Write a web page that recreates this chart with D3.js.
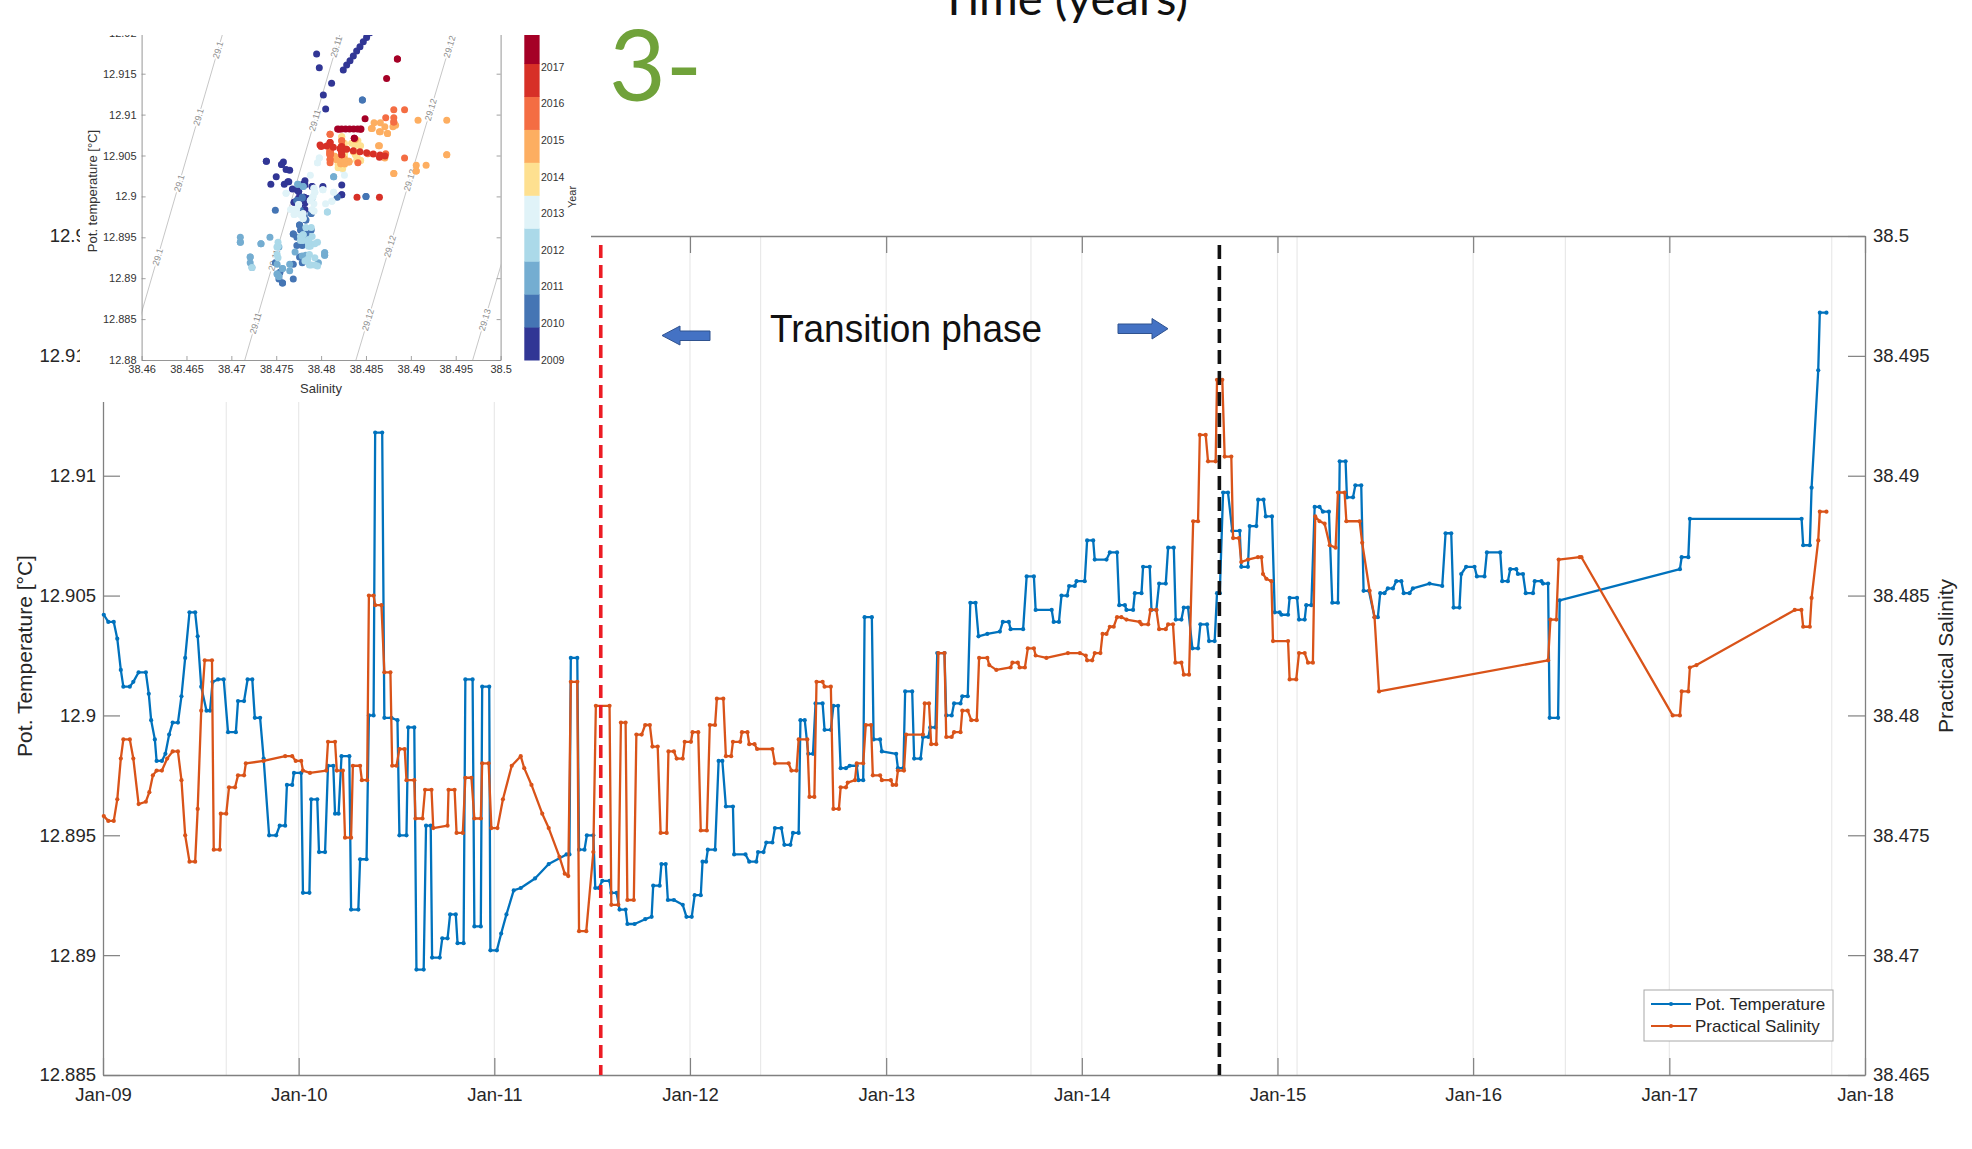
<!DOCTYPE html>
<html>
<head>
<meta charset="utf-8">
<script src="https://cdn.jsdelivr.net/npm/d3@7"></script>
<style>
  body { margin: 0; background: #fff; }
  svg { display: block; font-family: "Liberation Sans", Arial, sans-serif; }
</style>
</head>
<body>
<div id="chart"></div>
<script>
// ---- data (decimal years) ----
const tempYears = [2009.004,2009.027,2009.055,2009.073,2009.091,2009.104,2009.137,2009.155,2009.182,2009.219,2009.234,2009.246,2009.265,2009.274,2009.301,2009.319,2009.338,2009.356,2009.383,2009.401,2009.420,2009.442,2009.471,2009.484,2009.502,2009.529,2009.547,2009.560,2009.588,2009.617,2009.639,2009.679,2009.690,2009.721,2009.739,2009.763,2009.776,2009.803,2009.821,2009.849,2009.885,2009.903,2009.931,2009.940,2009.967,2009.976,2010.013,2010.022,2010.055,2010.064,2010.095,2010.104,2010.135,2010.150,2010.177,2010.186,2010.204,2010.219,2010.259,2010.268,2010.305,2010.314,2010.347,2010.359,2010.383,2010.391,2010.427,2010.438,2010.474,2010.505,2010.515,2010.551,2010.560,2010.591,2010.602,2010.639,2010.651,2010.675,2010.682,2010.721,2010.734,2010.761,2010.774,2010.803,2010.812,2010.843,2010.852,2010.889,2010.898,2010.931,2010.938,2010.974,2010.980,2011.013,2011.035,2011.062,2011.099,2011.135,2011.208,2011.278,2011.369,2011.384,2011.391,2011.424,2011.433,2011.461,2011.473,2011.506,2011.516,2011.534,2011.552,2011.589,2011.598,2011.625,2011.640,2011.671,2011.680,2011.717,2011.771,2011.804,2011.812,2011.845,2011.854,2011.876,2011.887,2011.918,2011.963,2011.982,2012.009,2012.024,2012.055,2012.064,2012.082,2012.091,2012.128,2012.146,2012.165,2012.183,2012.219,2012.225,2012.283,2012.302,2012.338,2012.347,2012.375,2012.389,2012.420,2012.433,2012.466,2012.481,2012.512,2012.525,2012.554,2012.563,2012.585,2012.603,2012.627,2012.640,2012.676,2012.686,2012.718,2012.731,2012.755,2012.768,2012.795,2012.814,2012.850,2012.859,2012.883,2012.890,2012.927,2012.936,2012.969,2012.978,2013.051,2013.060,2013.088,2013.097,2013.133,2013.143,2013.176,2013.188,2013.216,2013.225,2013.252,2013.261,2013.298,2013.307,2013.335,2013.347,2013.380,2013.389,2013.417,2013.430,2013.457,2013.472,2013.517,2013.581,2013.596,2013.627,2013.636,2013.700,2013.718,2013.755,2013.764,2013.846,2013.856,2013.883,2013.896,2013.925,2013.935,2013.964,2013.973,2014.015,2014.027,2014.058,2014.066,2014.126,2014.143,2014.180,2014.191,2014.220,2014.228,2014.262,2014.271,2014.305,2014.313,2014.347,2014.356,2014.381,2014.395,2014.429,2014.441,2014.470,2014.480,2014.509,2014.521,2014.543,2014.565,2014.594,2014.606,2014.640,2014.650,2014.679,2014.691,2014.705,2014.722,2014.747,2014.769,2014.807,2014.815,2014.849,2014.858,2014.892,2014.901,2014.929,2014.940,2014.972,2014.986,2015.011,2015.020,2015.054,2015.062,2015.100,2015.110,2015.139,2015.147,2015.173,2015.190,2015.215,2015.232,2015.263,2015.280,2015.309,2015.318,2015.348,2015.355,2015.386,2015.398,2015.428,2015.440,2015.467,2015.496,2015.513,2015.525,2015.547,2015.564,2015.590,2015.607,2015.633,2015.645,2015.675,2015.692,2015.777,2015.842,2015.859,2015.888,2015.900,2015.930,2015.939,2015.964,2016.007,2016.019,2016.058,2016.070,2016.138,2016.148,2016.177,2016.189,2016.220,2016.228,2016.254,2016.268,2016.305,2016.314,2016.348,2016.356,2016.382,2016.390,2016.433,2016.441,2017.054,2017.063,2017.097,2017.105,2017.676,2017.684,2017.718,2017.727,2017.761,2017.769,2017.803];
const tempValues = [12.9042,12.9039,12.9039,12.9032,12.9019,12.9012,12.9012,12.9014,12.9018,12.9018,12.9009,12.8998,12.8990,12.8981,12.8981,12.8984,12.8992,12.8997,12.8997,12.9008,12.9024,12.9043,12.9043,12.9033,12.9012,12.9002,12.9002,12.9014,12.9015,12.9015,12.8993,12.8993,12.9006,12.9006,12.9015,12.9015,12.8999,12.8999,12.8982,12.8950,12.8950,12.8954,12.8954,12.8971,12.8971,12.8976,12.8976,12.8926,12.8926,12.8965,12.8965,12.8943,12.8943,12.8979,12.8979,12.8959,12.8959,12.8983,12.8983,12.8919,12.8919,12.8940,12.8940,12.9000,12.9000,12.9118,12.9118,12.8999,12.8999,12.8998,12.8950,12.8950,12.8995,12.8995,12.8894,12.8894,12.8954,12.8954,12.8899,12.8899,12.8907,12.8907,12.8917,12.8917,12.8905,12.8905,12.9015,12.9015,12.8912,12.8912,12.9012,12.9012,12.8902,12.8902,12.8909,12.8917,12.8927,12.8928,12.8932,12.8938,12.8942,12.8942,12.9024,12.9024,12.8944,12.8944,12.8950,12.8950,12.8928,12.8928,12.8931,12.8931,12.8926,12.8926,12.8919,12.8919,12.8913,12.8913,12.8915,12.8916,12.8929,12.8929,12.8938,12.8938,12.8923,12.8923,12.8921,12.8916,12.8916,12.8925,12.8925,12.8939,12.8939,12.8944,12.8944,12.8981,12.8981,12.8962,12.8962,12.8942,12.8942,12.8939,12.8939,12.8943,12.8943,12.8947,12.8947,12.8953,12.8953,12.8946,12.8946,12.8951,12.8951,12.8998,12.8998,12.8984,12.8984,12.9005,12.9005,12.8994,12.8994,12.9004,12.9004,12.8978,12.8978,12.8979,12.8979,12.8973,12.8973,12.9041,12.9041,12.8990,12.8990,12.8985,12.8984,12.8978,12.8978,12.9010,12.9010,12.8982,12.8982,12.8991,12.8991,12.8995,12.8995,12.9026,12.9026,12.9000,12.9000,12.9005,12.9005,12.9008,12.9008,12.9047,12.9047,12.9033,12.9034,12.9035,12.9039,12.9039,12.9036,12.9036,12.9058,12.9058,12.9044,12.9044,12.9039,12.9039,12.9050,12.9050,12.9054,12.9054,12.9056,12.9056,12.9073,12.9073,12.9065,12.9065,12.9068,12.9068,12.9046,12.9046,12.9044,12.9044,12.9051,12.9051,12.9062,12.9062,12.9044,12.9044,12.9055,12.9055,12.9070,12.9070,12.9040,12.9040,12.9045,12.9045,12.9028,12.9028,12.9038,12.9038,12.9031,12.9031,12.9051,12.9051,12.9093,12.9093,12.9077,12.9077,12.9062,12.9062,12.9079,12.9079,12.9090,12.9090,12.9083,12.9083,12.9043,12.9043,12.9042,12.9042,12.9049,12.9049,12.9040,12.9040,12.9046,12.9046,12.9087,12.9087,12.9085,12.9085,12.9047,12.9047,12.9106,12.9106,12.9091,12.9091,12.9096,12.9096,12.9052,12.9052,12.9041,12.9041,12.9051,12.9051,12.9053,12.9053,12.9056,12.9056,12.9051,12.9051,12.9053,12.9055,12.9054,12.9076,12.9076,12.9045,12.9045,12.9059,12.9062,12.9062,12.9058,12.9058,12.9068,12.9068,12.9056,12.9056,12.9061,12.9061,12.9059,12.9059,12.9051,12.9051,12.9056,12.9056,12.9055,12.9055,12.8999,12.8999,12.9048,12.9061,12.9066,12.9066,12.9082,12.9082,12.9071,12.9071,12.9095,12.9144,12.9168,12.9168];

const salYears = [2009.004,2009.027,2009.055,2009.073,2009.091,2009.104,2009.137,2009.155,2009.182,2009.219,2009.237,2009.255,2009.274,2009.301,2009.328,2009.356,2009.383,2009.401,2009.420,2009.442,2009.471,2009.484,2009.502,2009.520,2009.557,2009.566,2009.597,2009.602,2009.630,2009.644,2009.675,2009.690,2009.721,2009.730,2009.821,2009.931,2009.967,2009.985,2010.013,2010.022,2010.058,2010.141,2010.150,2010.186,2010.195,2010.226,2010.237,2010.268,2010.277,2010.314,2010.323,2010.350,2010.359,2010.383,2010.391,2010.423,2010.438,2010.469,2010.478,2010.500,2010.515,2010.542,2010.551,2010.591,2010.597,2010.633,2010.646,2010.679,2010.688,2010.761,2010.766,2010.797,2010.807,2010.839,2010.852,2010.883,2010.898,2010.931,2010.938,2010.971,2010.985,2011.016,2011.044,2011.089,2011.135,2011.153,2011.190,2011.245,2011.278,2011.333,2011.360,2011.378,2011.391,2011.424,2011.433,2011.470,2011.506,2011.519,2011.589,2011.598,2011.634,2011.647,2011.671,2011.680,2011.713,2011.726,2011.753,2011.771,2011.795,2011.808,2011.835,2011.850,2011.881,2011.890,2011.918,2011.932,2011.963,2011.973,2012.005,2012.013,2012.042,2012.055,2012.086,2012.101,2012.128,2012.137,2012.170,2012.183,2012.210,2012.219,2012.256,2012.265,2012.293,2012.302,2012.329,2012.342,2012.420,2012.433,2012.503,2012.517,2012.543,2012.554,2012.598,2012.609,2012.634,2012.645,2012.676,2012.686,2012.718,2012.731,2012.759,2012.768,2012.795,2012.804,2012.841,2012.850,2012.883,2012.896,2012.923,2012.932,2012.969,2012.978,2013.024,2013.033,2013.051,2013.060,2013.091,2013.102,2013.188,2013.197,2013.219,2013.230,2013.256,2013.267,2013.298,2013.307,2013.335,2013.347,2013.380,2013.389,2013.417,2013.435,2013.463,2013.475,2013.517,2013.527,2013.563,2013.636,2013.645,2013.673,2013.682,2013.709,2013.724,2013.755,2013.764,2013.819,2013.929,2013.990,2014.020,2014.027,2014.053,2014.066,2014.095,2014.106,2014.126,2014.143,2014.163,2014.180,2014.202,2014.228,2014.296,2014.305,2014.339,2014.351,2014.381,2014.395,2014.429,2014.441,2014.466,2014.478,2014.509,2014.521,2014.548,2014.569,2014.594,2014.603,2014.633,2014.645,2014.684,2014.691,2014.718,2014.730,2014.764,2014.773,2014.803,2014.815,2014.849,2014.900,2014.918,2014.926,2014.943,2014.969,2014.977,2015.054,2015.062,2015.096,2015.110,2015.139,2015.156,2015.181,2015.193,2015.215,2015.241,2015.267,2015.297,2015.309,2015.343,2015.352,2015.420,2015.433,2015.471,2015.496,2015.519,2016.382,2016.394,2016.424,2016.436,2016.543,2016.552,2017.017,2017.054,2017.063,2017.097,2017.105,2017.139,2017.641,2017.675,2017.684,2017.718,2017.727,2017.761,2017.769,2017.803];
const salValues = [38.4758,38.4756,38.4756,38.4765,38.4782,38.4790,38.4790,38.4782,38.4763,38.4764,38.4768,38.4775,38.4777,38.4777,38.4782,38.4785,38.4785,38.4773,38.4750,38.4739,38.4739,38.4761,38.4802,38.4823,38.4823,38.4744,38.4744,38.4759,38.4759,38.4770,38.4770,38.4775,38.4775,38.4780,38.4781,38.4783,38.4783,38.4781,38.4781,38.4777,38.4776,38.4777,38.4789,38.4789,38.4777,38.4777,38.4749,38.4749,38.4779,38.4779,38.4773,38.4773,38.4850,38.4850,38.4846,38.4846,38.4818,38.4818,38.4779,38.4779,38.4786,38.4786,38.4773,38.4773,38.4757,38.4757,38.4769,38.4769,38.4753,38.4754,38.4769,38.4769,38.4751,38.4751,38.4774,38.4774,38.4757,38.4757,38.4780,38.4780,38.4753,38.4753,38.4765,38.4779,38.4783,38.4778,38.4771,38.4759,38.4753,38.4741,38.4734,38.4733,38.4814,38.4814,38.4710,38.4710,38.4743,38.4804,38.4804,38.4721,38.4721,38.4797,38.4797,38.4723,38.4723,38.4792,38.4792,38.4796,38.4796,38.4787,38.4787,38.4751,38.4751,38.4785,38.4785,38.4782,38.4782,38.4789,38.4789,38.4793,38.4793,38.4752,38.4752,38.4796,38.4796,38.4807,38.4807,38.4783,38.4783,38.4789,38.4789,38.4793,38.4793,38.4788,38.4788,38.4786,38.4786,38.4780,38.4780,38.4777,38.4777,38.4790,38.4790,38.4766,38.4766,38.4814,38.4814,38.4812,38.4812,38.4761,38.4761,38.4770,38.4770,38.4772,38.4773,38.4780,38.4780,38.4796,38.4796,38.4775,38.4775,38.4773,38.4773,38.4771,38.4771,38.4777,38.4777,38.4792,38.4792,38.4805,38.4805,38.4788,38.4788,38.4826,38.4826,38.4791,38.4791,38.4793,38.4793,38.4802,38.4802,38.4798,38.4798,38.4824,38.4824,38.4821,38.4819,38.4820,38.4822,38.4822,38.4820,38.4820,38.4828,38.4828,38.4825,38.4824,38.4826,38.4826,38.4825,38.4823,38.4823,38.4826,38.4826,38.4834,38.4834,38.4837,38.4837,38.4841,38.4841,38.4840,38.4839,38.4838,38.4838,38.4844,38.4844,38.4836,38.4836,38.4838,38.4838,38.4822,38.4822,38.4817,38.4817,38.4881,38.4881,38.4917,38.4917,38.4906,38.4906,38.4940,38.4940,38.4908,38.4908,38.4874,38.4874,38.4864,38.4865,38.4866,38.4866,38.4859,38.4857,38.4856,38.4831,38.4831,38.4815,38.4815,38.4826,38.4826,38.4822,38.4822,38.4883,38.4881,38.4880,38.4871,38.4870,38.4893,38.4893,38.4881,38.4881,38.4872,38.4852,38.4841,38.4810,38.4823,38.4840,38.4840,38.4865,38.4866,38.4866,38.4800,38.4800,38.4810,38.4810,38.4820,38.4821,38.4844,38.4844,38.4837,38.4837,38.4849,38.4873,38.4885,38.4885];

const yearTicks = [2009, 2010, 2011, 2012, 2013, 2014, 2015, 2016, 2017, 2018];
const tempTicks = [12.885, 12.89, 12.895, 12.9, 12.905, 12.91, 12.915, 12.92];
const salTicks = [38.465, 38.47, 38.475, 38.48, 38.485, 38.49, 38.495, 38.5];
const extraGridYears = [2009.63, 2012.36, 2013.74, 2015.10, 2016.47, 2017.83];
const phaseStart = 2011.544;   // red dashed line
const phaseEnd = 2014.703;     // black dashed line

// inset (T-S diagram)
const insetSalTicks = [38.46, 38.465, 38.47, 38.475, 38.48, 38.485, 38.49, 38.495, 38.5];
const insetTempTicks = [12.88, 12.885, 12.89, 12.895, 12.9, 12.905, 12.91, 12.915, 12.92];
const colorbarYears = [2009, 2010, 2011, 2012, 2013, 2014, 2015, 2016, 2017, 2018];
const contourLevels = ["29.1", "29.11", "29.12", "29.13"];
const contourSalLow = [38.45846, 38.47150, 38.48388, 38.49689];   // at 12.88 degC
const contourSalHigh = [38.46906, 38.48215, 38.49476, 38.50777];  // at 12.92 degC
const contourLabelTemps = [
  [12.8926, 12.9016, 12.9097, 12.9179],
  [12.8845, 12.8922, 12.9093, 12.9183],
  [12.8849, 12.8939, 12.9020, 12.9106, 12.9183],
  [12.8849]
];
// extra points seen only in the inset
const extraSal = [38.48247,38.48285,38.48322,38.48359,38.48396,38.48433,38.48470,38.48507,38.48545,38.47950,38.47980,38.48117,38.48025,38.48051,
  38.47988,38.48062,38.48136,38.48210,38.48285,38.48359,38.48433,38.48507,38.48582,38.48656,38.48712,
  38.48184,38.48229,38.48273,38.48318,38.48363,38.48407,38.48444];
const extraTemp = [12.91545,12.91606,12.91659,12.91716,12.91777,12.91830,12.91891,12.91944,12.92001,12.91741,12.91574,12.91382,12.91239,12.91068,
  12.90628,12.90616,12.90600,12.90587,12.90575,12.90559,12.90547,12.90534,12.90518,12.90506,12.90494,
  12.90824,12.90824,12.90824,12.90824,12.90824,12.90824,12.90824];
const extraYear = [2009,2009,2009,2009,2009,2009,2009,2009,2009,2009,2009,2009,2009,2009,
  2016.7,2016.7,2016.7,2016.7,2016.7,2016.7,2016.7,2016.7,2016.7,2016.7,2016.7,
  2017.4,2017.4,2017.4,2017.4,2017.4,2017.4,2017.4];

// ---- helpers ----
function toDate(y) {
  const y0 = Math.floor(y);
  const a = Date.UTC(y0, 0, 1), b = Date.UTC(y0 + 1, 0, 1);
  return new Date(a + (y - y0) * (b - a));
}
const fmt3 = d => String(+d.toFixed(3));

const width = 1972, height = 1149;
const plot = { left: 103, right: 1865, top: 236, bottom: 1075 };
const blue = "#0072bd", orange = "#d95319", axisGray = "#808080", textCol = "#262626";

const svg = d3.select("#chart").append("svg")
  .attr("width", width)
  .attr("height", height);

const x = d3.scaleUtc().domain([toDate(2009), toDate(2018)]).range([plot.left, plot.right]);
const yT = d3.scaleLinear().domain([12.885, 12.92]).range([plot.bottom, plot.top]);
const yS = d3.scaleLinear().domain([38.465, 38.5]).range([plot.bottom, plot.top]);

// grid lines
const gridYears = yearTicks.slice(1, -1).concat(extraGridYears);
svg.append("g").selectAll("line").data(gridYears).join("line")
  .attr("x1", d => x(toDate(d))).attr("x2", d => x(toDate(d)))
  .attr("y1", plot.top).attr("y2", plot.bottom)
  .attr("stroke", "#e9e9e9").attr("stroke-width", 1.2);

// axes
function styleAxis(g, size) {
  g.select(".domain").attr("stroke", axisGray).attr("stroke-width", 1.3);
  g.selectAll(".tick line").attr("stroke", axisGray).attr("stroke-width", 1.2);
  g.selectAll(".tick text").attr("fill", textCol).style("font-size", size + "px");
}
svg.append("g").attr("transform", `translate(0,${plot.bottom})`)
  .call(d3.axisBottom(x).tickValues(yearTicks.map(toDate)).tickFormat(d3.utcFormat("%b-%y"))
    .tickSizeInner(-17).tickSizeOuter(0).tickPadding(13))
  .call(g => styleAxis(g, 18.5));
svg.append("g").attr("transform", `translate(0,${plot.top})`)
  .call(d3.axisTop(x).tickValues(yearTicks.map(toDate)).tickFormat("")
    .tickSizeInner(-17).tickSizeOuter(0))
  .call(g => styleAxis(g, 18.5));
svg.append("g").attr("transform", `translate(${plot.left},0)`)
  .call(d3.axisLeft(yT).tickValues(tempTicks).tickFormat(fmt3)
    .tickSizeInner(-17).tickSizeOuter(0).tickPadding(7))
  .call(g => styleAxis(g, 18.5));
svg.append("g").attr("transform", `translate(${plot.right},0)`)
  .call(d3.axisRight(yS).tickValues(salTicks).tickFormat(fmt3)
    .tickSizeInner(-17).tickSizeOuter(0).tickPadding(8))
  .call(g => styleAxis(g, 18.5));

// axis titles
svg.append("text")
  .attr("transform", `translate(32,656) rotate(-90)`)
  .attr("text-anchor", "middle").attr("fill", textCol)
  .style("font-size", "21px").text("Pot. Temperature [°C]");
svg.append("text")
  .attr("transform", `translate(1953,656) rotate(-90)`)
  .attr("text-anchor", "middle").attr("fill", textCol)
  .style("font-size", "21px").text("Practical Salinity");

// series
const tempData = tempYears.map((t, i) => ({ date: toDate(t), v: tempValues[i] }));
const salData = salYears.map((t, i) => ({ date: toDate(t), v: salValues[i] }));

function drawSeries(data, yScale, color) {
  const g = svg.append("g");
  g.append("path").datum(data)
    .attr("fill", "none").attr("stroke", color).attr("stroke-width", 2.3)
    .attr("stroke-linejoin", "round")
    .attr("d", d3.line().x(d => x(d.date)).y(d => yScale(d.v)));
  g.selectAll("circle").data(data).join("circle")
    .attr("cx", d => x(d.date)).attr("cy", d => yScale(d.v))
    .attr("r", 2.1).attr("fill", color);
}
drawSeries(tempData, yT, blue);
drawSeries(salData, yS, orange);

// phase lines
svg.append("line")
  .attr("x1", x(toDate(phaseStart))).attr("x2", x(toDate(phaseStart)))
  .attr("y1", 245).attr("y2", plot.bottom)
  .attr("stroke", "#ec1c24").attr("stroke-width", 3.6).attr("stroke-dasharray", "13,7");
svg.append("line")
  .attr("x1", x(toDate(phaseEnd))).attr("x2", x(toDate(phaseEnd)))
  .attr("y1", 245).attr("y2", plot.bottom)
  .attr("stroke", "#111").attr("stroke-width", 3.6).attr("stroke-dasharray", "14,7");

// legend
const leg = svg.append("g").attr("transform", "translate(1644,990)");
leg.append("rect").attr("width", 189).attr("height", 51)
  .attr("fill", "#fff").attr("stroke", "#a8a8a8").attr("stroke-width", 1);
[["Pot. Temperature", blue], ["Practical Salinity", orange]].forEach(([name, c], i) => {
  const yy = 14 + i * 22;
  leg.append("line").attr("x1", 7).attr("x2", 47).attr("y1", yy).attr("y2", yy)
    .attr("stroke", c).attr("stroke-width", 2.2);
  leg.append("circle").attr("cx", 27).attr("cy", yy).attr("r", 2.1).attr("fill", c);
  leg.append("text").attr("x", 51).attr("y", yy + 6).attr("fill", textCol)
    .style("font-size", "17px").text(name);
});

// annotations
svg.append("text").attr("x", 770).attr("y", 342)
  .attr("textLength", 272).attr("lengthAdjust", "spacingAndGlyphs")
  .attr("fill", "#111").style("font-size", "39px").text("Transition phase");
const arrowFill = "#4472c4", arrowStroke = "#2f528f";
svg.append("polygon")
  .attr("points", [[662,335.5],[680,326],[680,331],[710,331],[710,340.5],[680,340.5],[680,345]].join(" "))
  .attr("fill", arrowFill).attr("stroke", arrowStroke).attr("stroke-width", 1);
svg.append("polygon")
  .attr("points", [[1118,324],[1152,324],[1152,318.5],[1168,328.7],[1152,339],[1152,333.5],[1118,333.5]].join(" "))
  .attr("fill", arrowFill).attr("stroke", arrowStroke).attr("stroke-width", 1);

// page title sits partly above the top edge, as in the source figure
svg.append("text").attr("x", 1064).attr("y", 15).attr("text-anchor", "middle")
  .attr("textLength", 248).attr("lengthAdjust", "spacingAndGlyphs")
  .attr("fill", "#111").style("font-family", "Lato, 'Open Sans', sans-serif")
  .style("font-size", "46px").text("Time (years)");
svg.append("text").attr("x", 609).attr("y", 101)
  .attr("fill", "#70a23a").style("font-family", "Lato, 'Open Sans', sans-serif")
  .style("font-size", "98px").text("3-");

// ---- inset: T-S diagram coloured by year ----
svg.append("rect").attr("x", 80).attr("y", 0).attr("width", 511).attr("height", 402).attr("fill", "#fff");

const defs = svg.append("defs");
defs.append("clipPath").attr("id", "insetClip")
  .append("rect").attr("x", 0).attr("y", 35).attr("width", 600).attr("height", 370);
defs.append("clipPath").attr("id", "insetPlotClip")
  .append("rect").attr("x", 141.6).attr("y", 32.8).attr("width", 359).attr("height", 327.2);

const inset = svg.append("g").attr("clip-path", "url(#insetClip)");
const ix = d3.scaleLinear().domain([38.46, 38.5]).range([141.6, 500.6]);
const iy = d3.scaleLinear().domain([12.88, 12.92]).range([360, 32.8]);
const yearColor = d3.scaleQuantize().domain([2009, 2018])
  .range(d3.schemeRdYlBu[10].slice().reverse());

const insetPlot = inset.append("g").attr("clip-path", "url(#insetPlotClip)");

// density contours
contourLevels.forEach((lev, i) => {
  const x0 = ix(contourSalLow[i]), y0 = iy(12.88);
  const x1 = ix(contourSalHigh[i]), y1 = iy(12.92);
  insetPlot.append("line").attr("x1", x0).attr("y1", y0).attr("x2", x1).attr("y2", y1)
    .attr("stroke", "#b8b8b8").attr("stroke-width", 0.8);
  const ang = Math.atan2(y1 - y0, x1 - x0) * 180 / Math.PI;
  contourLabelTemps[i].forEach(t => {
    const f = (t - 12.88) / 0.04;
    const px = x0 + f * (x1 - x0), py = y0 + f * (y1 - y0);
    insetPlot.append("text")
      .attr("transform", `translate(${px},${py}) rotate(${ang})`)
      .attr("text-anchor", "middle").attr("dy", "0.35em")
      .attr("fill", "#8e8e8e").attr("stroke", "#fff").attr("stroke-width", 3)
      .style("paint-order", "stroke").style("font-size", "9px").text(lev);
  });
});

// scatter: each temperature sample paired with the nearest salinity sample, plus inset-only points
const nearest = d3.bisector(d => d).center;
const pts = tempYears.map((t, i) => ({ s: salValues[nearest(salYears, t)], t: tempValues[i], yr: t }))
  .concat(extraSal.map((s, i) => ({ s, t: extraTemp[i], yr: extraYear[i] })))
  .sort((a, b) => a.yr - b.yr);
insetPlot.append("g").selectAll("circle").data(pts).join("circle")
  .attr("cx", d => ix(d.s)).attr("cy", d => iy(d.t)).attr("r", 3.5)
  .attr("fill", d => yearColor(d.yr));

// inset axes
function styleInset(g) {
  g.select(".domain").attr("stroke", "#8a8a8a").attr("stroke-width", 0.9);
  g.selectAll(".tick line").attr("stroke", "#8a8a8a").attr("stroke-width", 0.8);
  g.selectAll(".tick text").attr("fill", "#333").style("font-size", "11px");
}
inset.append("g").attr("transform", "translate(0,360)")
  .call(d3.axisBottom(ix).tickValues(insetSalTicks).tickFormat(fmt3).tickSizeInner(-4).tickSizeOuter(0).tickPadding(5))
  .call(styleInset);
inset.append("g").attr("transform", "translate(141.6,0)")
  .call(d3.axisLeft(iy).tickValues(insetTempTicks).tickFormat(fmt3).tickSizeInner(-4).tickSizeOuter(0).tickPadding(5))
  .call(styleInset);
inset.append("g").attr("transform", "translate(500.6,0)")
  .call(d3.axisRight(iy).tickValues(insetTempTicks).tickFormat("").tickSizeInner(-4).tickSizeOuter(0))
  .call(styleInset);
inset.append("text").attr("x", 321).attr("y", 393).attr("text-anchor", "middle")
  .attr("fill", "#333").style("font-size", "13px").text("Salinity");
inset.append("text").attr("transform", "translate(97,191) rotate(-90)")
  .attr("text-anchor", "middle").attr("fill", "#333").style("font-size", "13px")
  .text("Pot. temperature [°C]");

// colorbar
const cy = d3.scaleLinear().domain([2009, 2018]).range([360, 30.6]);
const bandYears = yearColor.range().map(c => yearColor.invertExtent(c));
inset.append("g").selectAll("rect").data(bandYears).join("rect")
  .attr("x", 524.3).attr("width", 15.3)
  .attr("y", d => cy(d[1])).attr("height", d => cy(d[0]) - cy(d[1]) + 0.5)
  .attr("fill", d => yearColor((d[0] + d[1]) / 2));
inset.append("g").selectAll("text").data(colorbarYears).join("text")
  .attr("x", 541).attr("y", d => cy(d)).attr("dy", "0.35em")
  .attr("fill", "#333").style("font-size", "10.5px").text(d => d);
inset.append("text").attr("transform", "translate(576,197) rotate(-90)")
  .attr("text-anchor", "middle").attr("fill", "#333").style("font-size", "11px").text("Year");
</script>
</body>
</html>
